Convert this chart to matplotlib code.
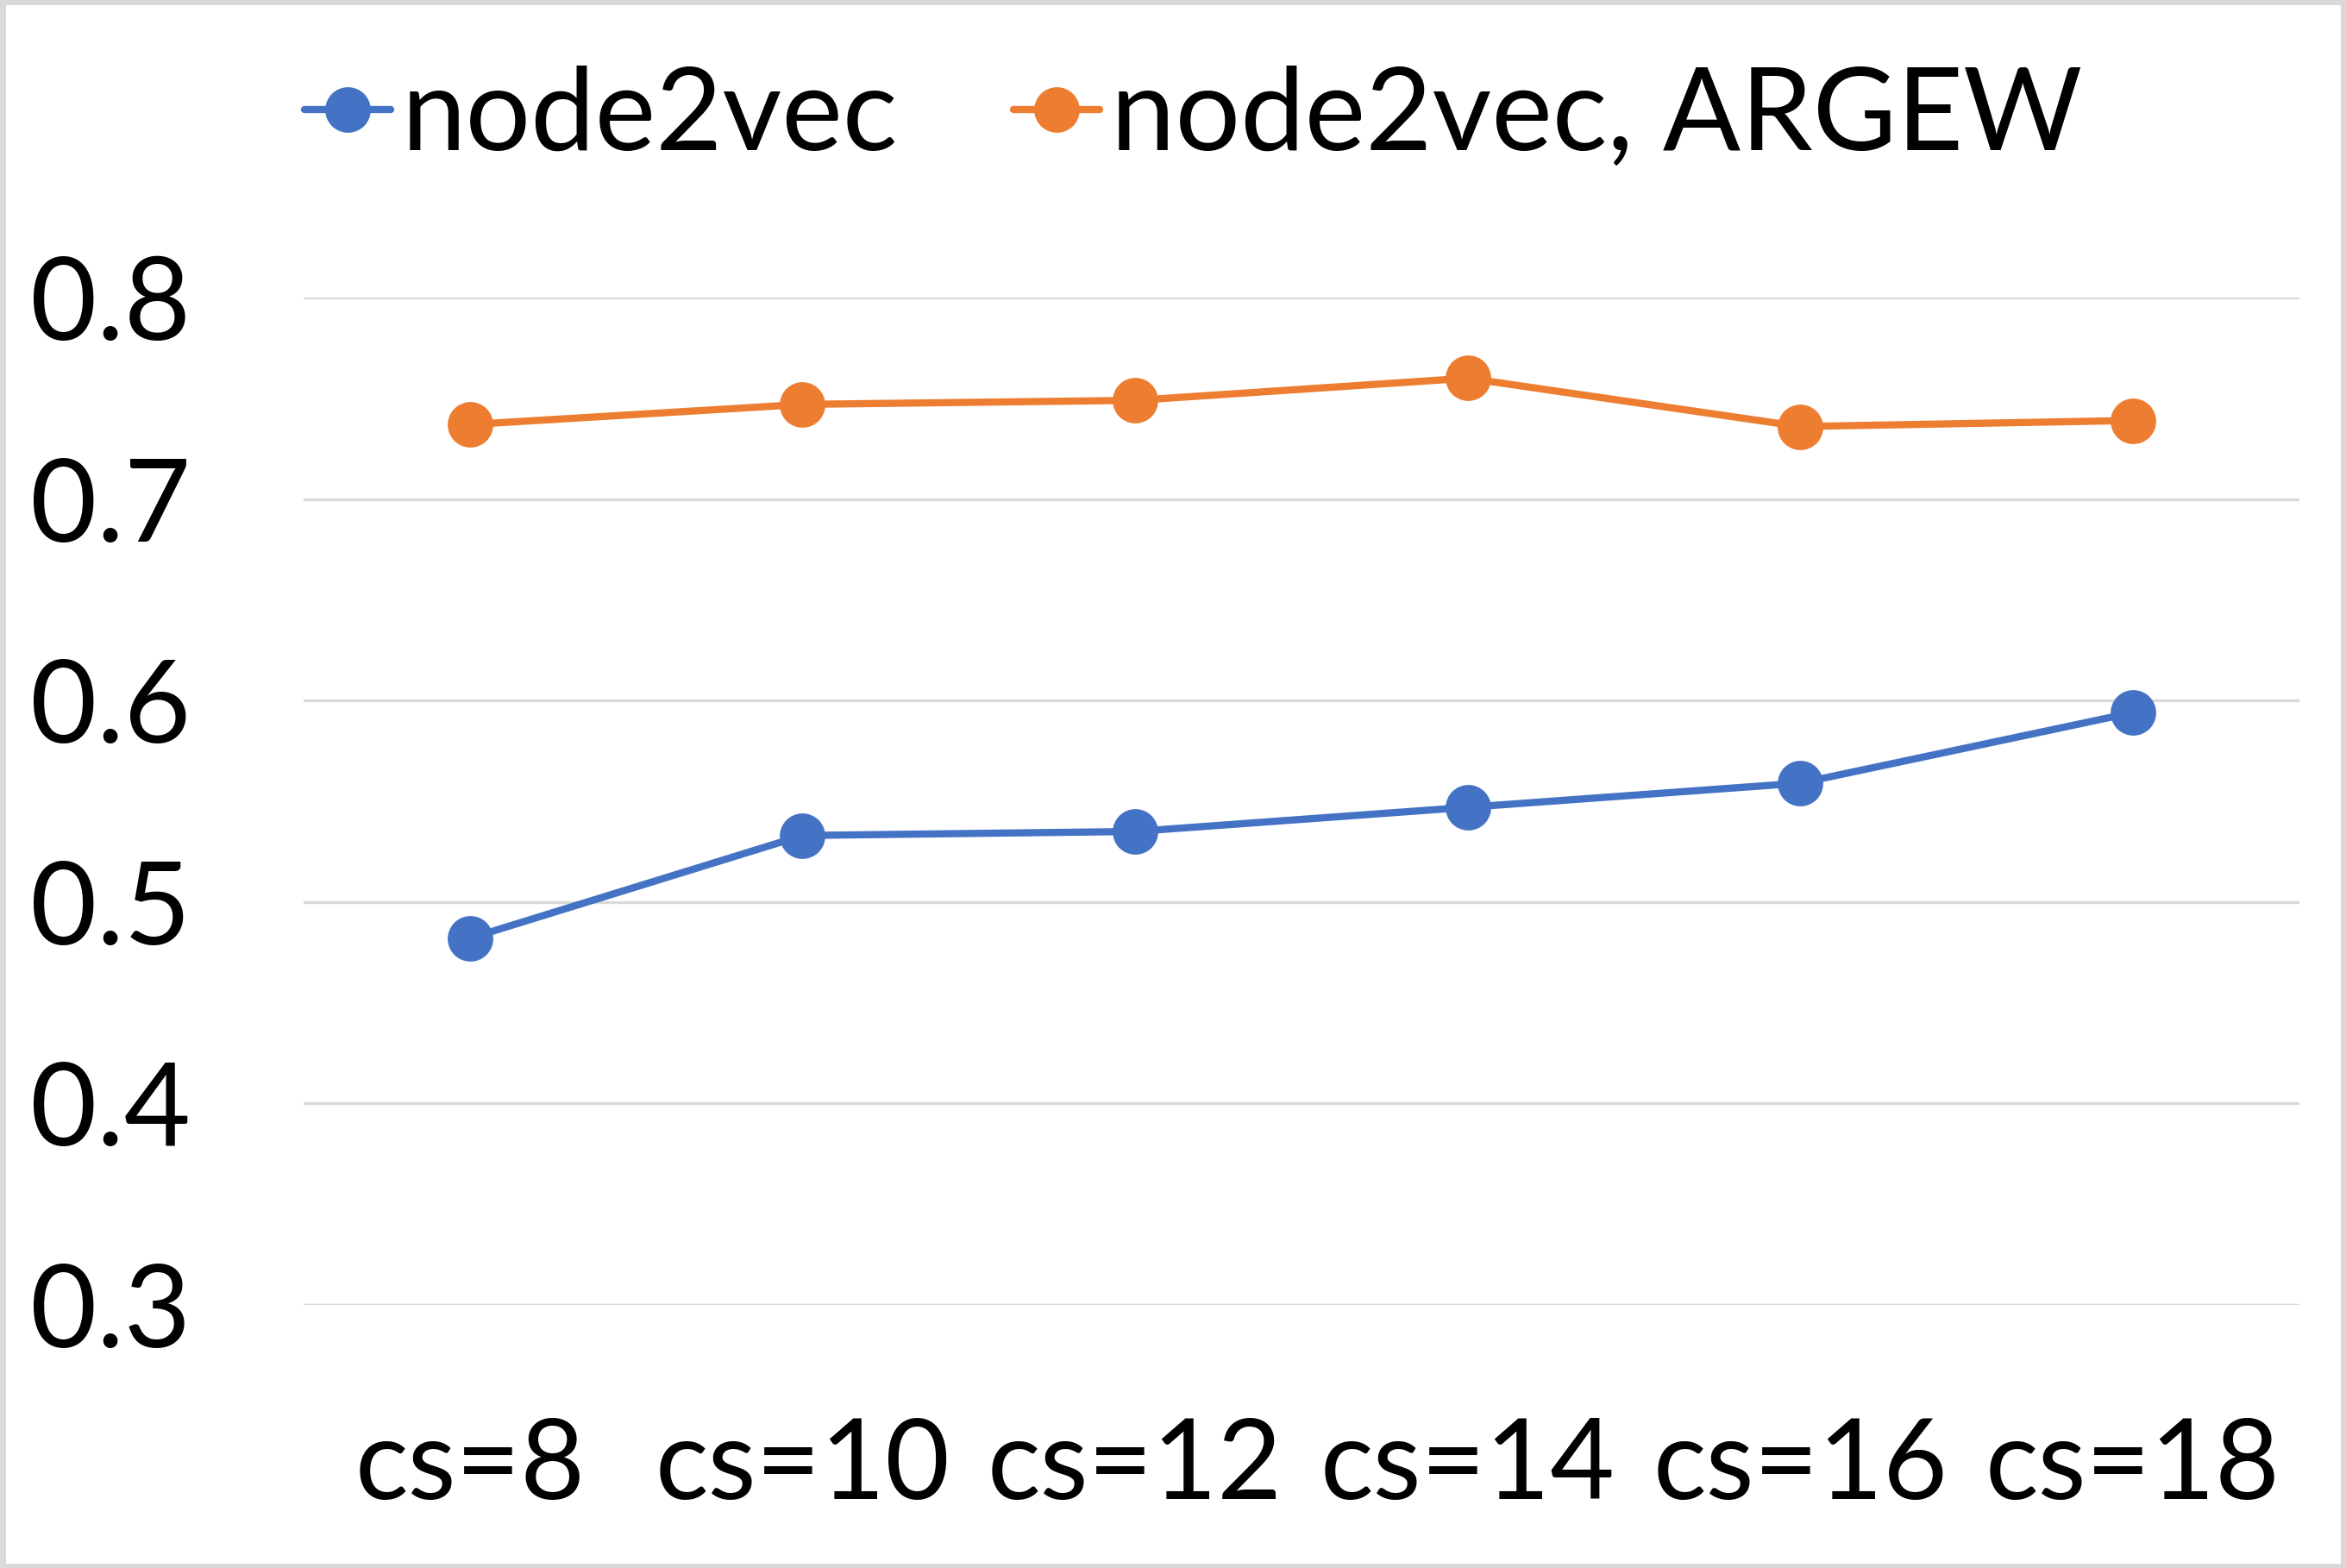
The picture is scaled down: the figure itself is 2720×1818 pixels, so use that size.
import matplotlib
matplotlib.use("Agg")
import matplotlib.pyplot as plt
from matplotlib.patches import Rectangle

categories = ["cs=8", "cs=10", "cs=12", "cs=14", "cs=16", "cs=18"]
node2vec = [0.482, 0.533, 0.535, 0.547, 0.559, 0.594]
node2vec_argew = [0.737, 0.747, 0.749, 0.760, 0.736, 0.739]
y_ticks = [0.3, 0.4, 0.5, 0.6, 0.7, 0.8]
y_tick_labels = ["0.3", "0.4", "0.5", "0.6", "0.7", "0.8"]

BLUE = "#4472C4"
ORANGE = "#ED7D31"
GRID = "#D9D9D9"

plt.rcParams['font.family'] = ['Lato', 'DejaVu Sans']

fig = plt.figure(figsize=(13.6, 9.09), dpi=200)
ax = fig.add_axes([0.1294, 0.1678, 0.8506, 0.6424])

x = list(range(len(categories)))
ax.plot(x, node2vec, color=BLUE, lw=3.0, marker='o', markersize=18,
        label="node2vec", solid_capstyle='round')
ax.plot(x, node2vec_argew, color=ORANGE, lw=3.0, marker='o', markersize=18,
        label="node2vec, ARGEW", solid_capstyle='round')

ax.set_xlim(-0.5, len(categories) - 0.5)
ax.set_ylim(0.3, 0.8)
ax.set_yticks(y_ticks)
ax.set_yticklabels(y_tick_labels)
ax.set_xticks(x)
ax.set_xticklabels(categories)
ax.tick_params(axis='both', length=0, colors='black')
ax.tick_params(axis='y', pad=47, labelsize=48)
ax.tick_params(axis='x', pad=47, labelsize=46.5)
ax.grid(axis='y', color=GRID, lw=1.2)
ax.set_axisbelow(True)
for s in ax.spines.values():
    s.set_visible(False)
ax.axhline(0.3, color=GRID, lw=1.2, zorder=0)

fig.legend(loc='center left', bbox_to_anchor=(0.110, 0.925), ncol=2,
           frameon=False, fontsize=48, handlelength=0.75, handletextpad=0.1,
           columnspacing=1.0, borderaxespad=0)

fig.patches.append(Rectangle((0.001, 0.001), 0.998, 0.998, transform=fig.transFigure,
                             fill=False, edgecolor=GRID, lw=2.5))

fig.savefig("out.png", dpi=200, facecolor='white')
